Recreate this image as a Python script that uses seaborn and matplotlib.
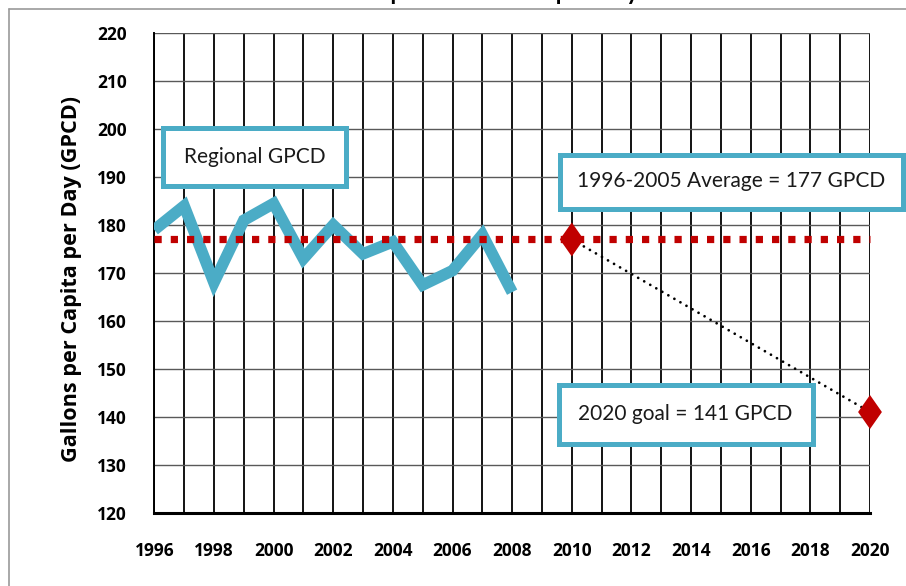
import matplotlib
matplotlib.use("Agg")
import matplotlib.pyplot as plt
import seaborn as sns
import pandas as pd
from matplotlib.patches import Rectangle
from matplotlib.lines import Line2D

# Regional gallons per capita per day, 1996-2008
years = list(range(1996, 2009))
gpcd = [179, 184, 168, 181, 184.5, 173, 180, 174, 176.5, 167.5, 170.5, 178, 166]

# 1996-2005 average, carried across the whole chart
avg_span = [1996, 2020]
avg_value = 177

# Path from the 2010 level down to the 2020 goal
target_years = [2010, 2020]
target_values = [177, 141]

x_ticks = list(range(1996, 2021))
x_labels = [str(y) if y % 2 == 0 else "" for y in x_ticks]
y_ticks = list(range(120, 221, 10))

box_texts = ["Regional GPCD", "1996-2005 Average = 177 GPCD", "2020 goal = 141 GPCD"]

TEAL = "#4BACC6"
RED = "#C00000"
BOLD_FONT = ["Open Sans", "DejaVu Sans"]

sns.set_theme(style="white")
plt.rcParams["font.family"] = ["Lato", "DejaVu Sans"]

W, H = 906, 586
fig = plt.figure(figsize=(W / 100, H / 100), dpi=100)


def fx(px):
    return px / W


def fy(py):
    return 1 - py / H


ax = fig.add_axes([fx(154.3), fy(512.7), fx(870) - fx(154.3), fy(33.3) - fy(512.7)])
ax.set_facecolor("white")

# regional series
sns.lineplot(x=years, y=gpcd, ax=ax, color=TEAL, linewidth=8.3,
             solid_joinstyle="miter", solid_capstyle="butt", zorder=3)

# average line (square red dots)
avg_df = pd.DataFrame({"year": avg_span, "value": [avg_value] * len(avg_span)})
sns.lineplot(data=avg_df, x="year", y="value", ax=ax, color=RED, linewidth=5.2,
             linestyle=(0, (1.0, 1.25)), dash_capstyle="butt", clip_on=False, zorder=4)

# dotted trend to the goal
sns.lineplot(x=target_years, y=target_values, ax=ax, color="black", linewidth=2.0,
             linestyle=(0, (0.01, 2.5)), dash_capstyle="round", zorder=5)

# diamond markers
diamond = [(0, 1), (0.7, 0), (0, -1), (-0.7, 0), (0, 1)]
sns.scatterplot(x=target_years, y=target_values, ax=ax, marker=diamond, s=600,
                color=RED, edgecolor="none", linewidth=0, clip_on=False, zorder=6)

ax.set_xlim(1996, 2020)
ax.set_ylim(120, 220)
ax.set_xticks(x_ticks)
ax.set_xticklabels(x_labels)
ax.set_yticks(y_ticks)
ax.set_yticklabels([str(v) for v in y_ticks])

ax.grid(axis="x", color="black", linewidth=1.3, zorder=1)
ax.grid(axis="y", color="#595959", linewidth=1.0, zorder=1)
ax.set_axisbelow(True)

for side in ["top", "right"]:
    ax.spines[side].set_visible(False)
ax.spines["left"].set_color("black")
ax.spines["left"].set_linewidth(1.4)
ax.spines["bottom"].set_color("black")
ax.spines["bottom"].set_linewidth(2.2)

ax.tick_params(axis="both", which="major", direction="out", length=4.3, width=1.0,
               color="black", labelsize=12.5, labelcolor="black")
ax.tick_params(axis="x", pad=16.5)
ax.tick_params(axis="y", pad=15.5)
for lab in ax.get_xticklabels() + ax.get_yticklabels():
    lab.set_fontweight("bold")
    lab.set_family(BOLD_FONT)

ax.set_xlabel("")
ax.set_ylabel("")

fig.text(fx(71.7), fy(278.5), "Gallons per Capita per Day (GPCD)", rotation=90,
         ha="center", va="center", fontsize=15.6, fontweight="bold", color="black",
         family=BOLD_FONT)

# annotation boxes (outer pixel bounds: left, top, right, bottom)
boxes = [
    ((160.7, 125.0, 348.3, 188.3), (254.5, 157.0)),
    ((557.0, 152.0, 905.0, 211.5), (731.0, 181.0)),
    ((556.0, 382.7, 815.0, 446.0), (685.0, 414.0)),
]
bw = 5.0
for ((l, t, r, b), (tx, ty)), label in zip(boxes, box_texts):
    rect = Rectangle((fx(l + bw / 2), fy(b - bw / 2)),
                     fx(r - bw / 2) - fx(l + bw / 2), fy(t + bw / 2) - fy(b - bw / 2),
                     transform=fig.transFigure, facecolor="white", edgecolor=TEAL,
                     linewidth=bw * 0.72, joinstyle="miter", zorder=10)
    fig.add_artist(rect)
    fig.text(fx(tx), fy(ty), label, ha="center", va="center", fontsize=15,
             color="#1a1a1a", zorder=11)

# outer frame
frame_kw = dict(color="#9a9a9a", linewidth=1.2, transform=fig.transFigure)
fig.add_artist(Line2D([fx(8.5), fx(8.5)], [fy(8.5), 0], **frame_kw))
fig.add_artist(Line2D([fx(8.5), 1], [fy(8.5), fy(8.5)], **frame_kw))

# chart title, running off the top edge
fig.text(fx(480), 1 + 0.5 / H, "Per Capita Water Use per Day", ha="center",
         va="baseline", fontsize=17, fontweight="bold", color="black")

fig.savefig("out.png", dpi=100, facecolor="white")
